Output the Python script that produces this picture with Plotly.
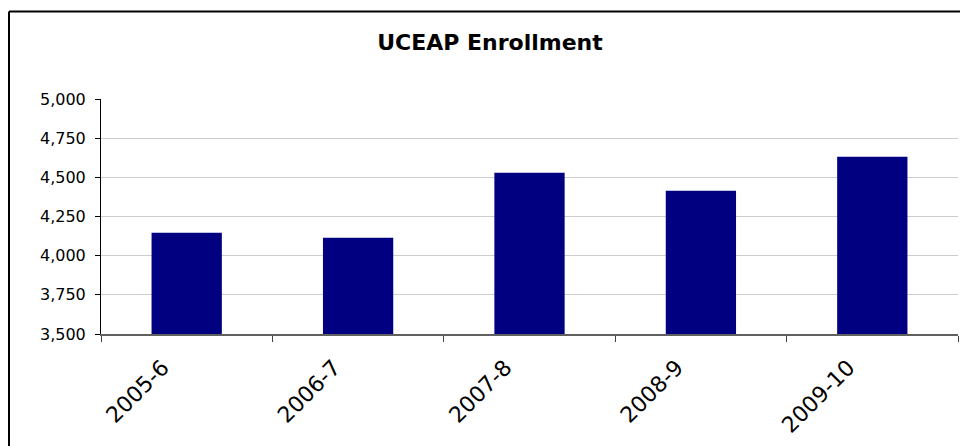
import plotly.graph_objects as go

categories = ["2005-6", "2006-7", "2007-8", "2008-9", "2009-10"]
enrollment = [4147, 4115, 4530, 4415, 4632]
y_ticks = [3500, 3750, 4000, 4250, 4500, 4750, 5000]
title_text = "UCEAP Enrollment"

fig = go.Figure()
fig.add_trace(go.Bar(x=categories, y=enrollment, marker=dict(color="#000080", line=dict(width=0)),
                     width=0.41))

L, R, T, B = 101, 2, 99, 112
W, H = 960, 446
pw, ph = W - L - R, H - T - B

def px2paper_x(px):
    return (px - L) / pw

def px2paper_y(py):
    return (H - B - py) / ph

fig.update_layout(
    width=W, height=H,
    margin=dict(l=L, r=R, t=T, b=B),
    paper_bgcolor="white", plot_bgcolor="white",
    showlegend=False,
    title=dict(text=title_text, x=490 / W, xanchor="center", y=1 - 42 / H, yanchor="middle",
               font=dict(family="DejaVu Sans", size=22, color="black", weight="bold")),
    font=dict(family="DejaVu Sans", color="black"),
    xaxis=dict(
        type="category", tickson="boundaries", ticks="outside", ticklen=6, tickcolor="#404040",
        showline=True, linecolor="#606060", linewidth=2, showgrid=False,
        tickangle=-45, tickfont=dict(size=22, family="DejaVu Sans", color="black"),
        ticklabelstandoff=10, ticklabelshift=-24,
    ),
    yaxis=dict(
        range=[3500, 5000], tickvals=y_ticks, tickformat=",",
        ticks="outside", ticklen=5, tickcolor="black",
        showline=True, linecolor="black", linewidth=1,
        showgrid=True, gridcolor="#cccccc", gridwidth=1,
        tickfont=dict(size=16, family="DejaVu Sans", color="black"),
        ticklabelstandoff=6, zeroline=False,
    ),
    shapes=[
        dict(type="line", xref="paper", yref="paper",
             x0=px2paper_x(9), x1=px2paper_x(965), y0=px2paper_y(11.5), y1=px2paper_y(11.5),
             line=dict(color="black", width=2)),
        dict(type="line", xref="paper", yref="paper",
             x0=px2paper_x(9), x1=px2paper_x(9), y0=px2paper_y(11.5), y1=px2paper_y(460),
             line=dict(color="black", width=2)),
    ],
)

fig.write_html("out.html", config={"displayModeBar": False},
               post_script="document.body.style.margin='0';document.body.style.overflow='hidden';")
